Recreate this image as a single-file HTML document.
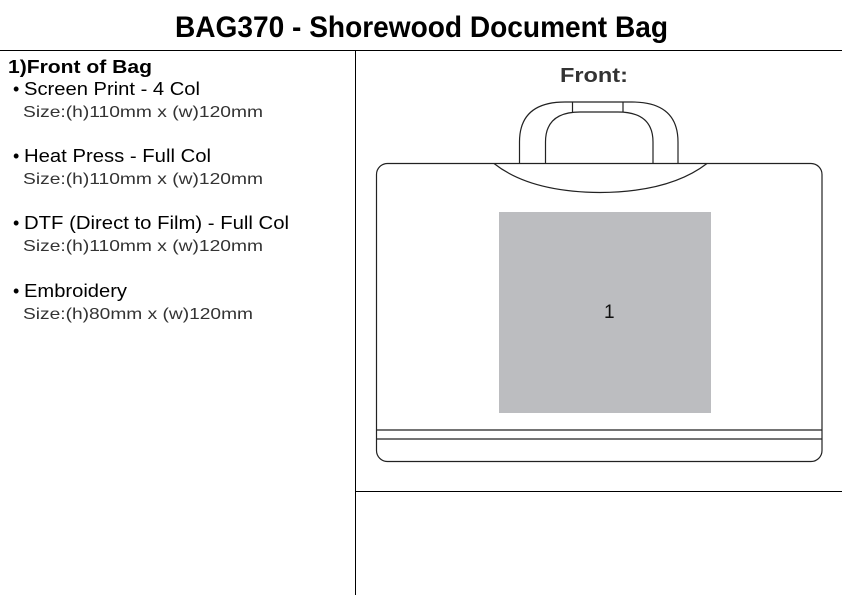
<!DOCTYPE html>
<html><head><meta charset="utf-8"><style>
html,body{margin:0;padding:0;background:#fff;}
svg{display:block;font-family:"Liberation Sans",sans-serif;}
</style></head><body>
<svg width="842" height="595" viewBox="0 0 842 595" xmlns="http://www.w3.org/2000/svg">
<rect width="842" height="595" fill="#fff"/>
<text x="175" y="37" font-size="30" font-weight="bold" textLength="493" lengthAdjust="spacingAndGlyphs">BAG370 - Shorewood Document Bag</text>
<line x1="0" y1="50.5" x2="842" y2="50.5" stroke="#000" stroke-width="1"/>
<line x1="355.5" y1="50" x2="355.5" y2="595" stroke="#000" stroke-width="1"/>
<line x1="355" y1="491.5" x2="842" y2="491.5" stroke="#000" stroke-width="1"/>

<text x="8" y="73" font-size="18" font-weight="bold" textLength="144" lengthAdjust="spacingAndGlyphs">1)Front of Bag</text>
<g font-size="18" fill="#000">
<text x="13" y="95">•</text><text x="24" y="95" textLength="176" lengthAdjust="spacingAndGlyphs">Screen Print - 4 Col</text>
<text x="13" y="162">•</text><text x="24" y="162" textLength="187" lengthAdjust="spacingAndGlyphs">Heat Press - Full Col</text>
<text x="13" y="229">•</text><text x="24" y="229" textLength="265" lengthAdjust="spacingAndGlyphs">DTF (Direct to Film) - Full Col</text>
<text x="13" y="297">•</text><text x="24" y="297" textLength="103" lengthAdjust="spacingAndGlyphs">Embroidery</text>
</g>
<g font-size="16" fill="#333">
<text x="23" y="117" textLength="240" lengthAdjust="spacingAndGlyphs">Size:(h)110mm x (w)120mm</text>
<text x="23" y="184" textLength="240" lengthAdjust="spacingAndGlyphs">Size:(h)110mm x (w)120mm</text>
<text x="23" y="251" textLength="240" lengthAdjust="spacingAndGlyphs">Size:(h)110mm x (w)120mm</text>
<text x="23" y="319" textLength="230" lengthAdjust="spacingAndGlyphs">Size:(h)80mm x (w)120mm</text>
</g>

<text x="560" y="82" font-size="20" font-weight="bold" fill="#333" textLength="68" lengthAdjust="spacingAndGlyphs">Front:</text>

<g fill="none" stroke="#222" stroke-width="1.2">
<path d="M519.5,163 V142 Q519.5,102 565,102 H632 Q678,102 678,142 V163"/>
<path d="M545.5,163 V142 Q545.5,112 580,112 H618 Q653,112 653,142 V163"/>
<line x1="572.5" y1="102" x2="572.5" y2="112"/>
<line x1="623" y1="102" x2="623" y2="112"/>
<rect x="376.5" y="163.5" width="445.5" height="298" rx="11" fill="#fff"/>
<path d="M494,163.5 Q530,192 600,192.5 Q670,192 707,163.5"/>
<line x1="377" y1="430" x2="822" y2="430"/>
<line x1="377" y1="439" x2="822" y2="439"/>
</g>
<rect x="499" y="212" width="212" height="201" fill="#bcbdc0"/>
<text x="604" y="318" font-size="19" fill="#111">1</text>
</svg>
</body></html>
